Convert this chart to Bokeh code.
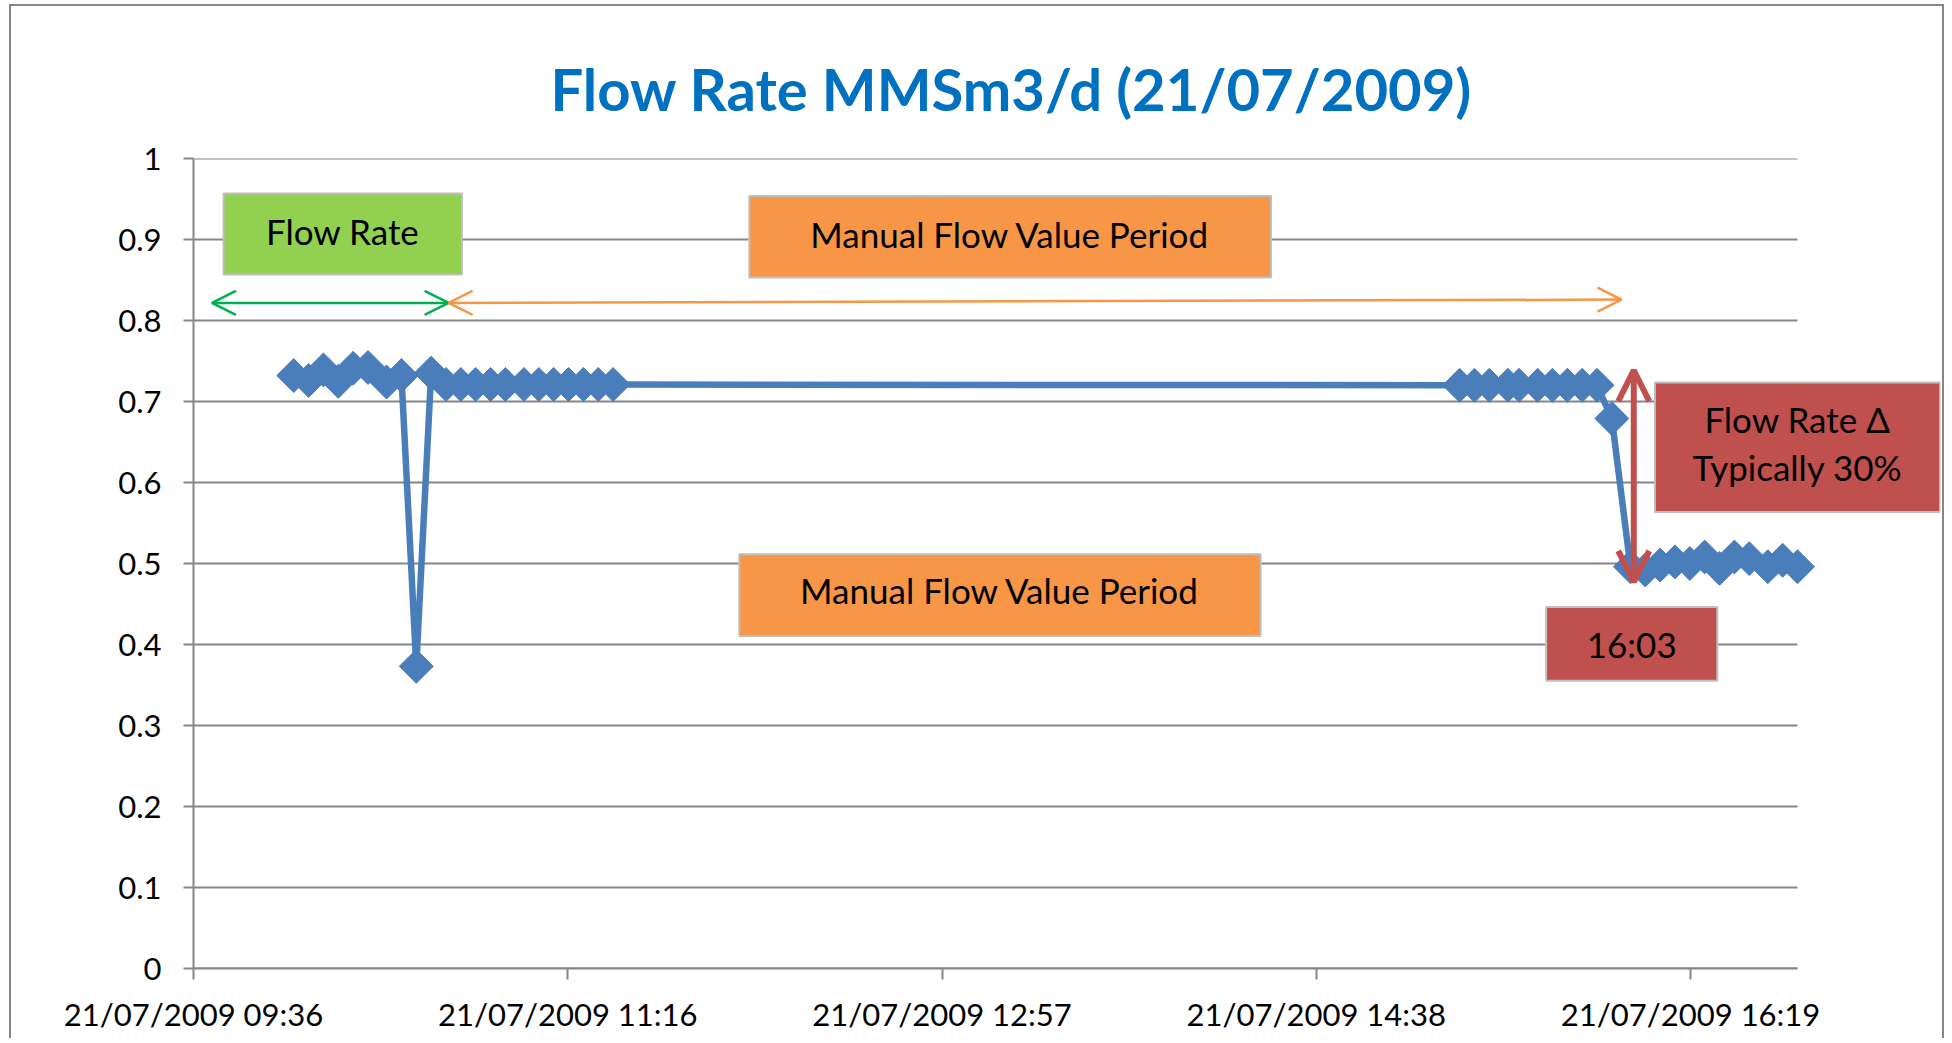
import math
from datetime import datetime, timezone

from bokeh.plotting import figure
from bokeh.models import (Range1d, FixedTicker, DatetimeTickFormatter, CustomJSTickFormatter,
                          BoxAnnotation, Label, Arrow, OpenHead)
from bokeh.embed import file_html
from bokeh.resources import INLINE

# ---------------- data ----------------
TITLE = "Flow Rate MMSm3/d (21/07/2009)"

times = ["10:03", "10:07", "10:11", "10:15", "10:19", "10:23", "10:28", "10:32", "10:36", "10:40",
         "10:44", "10:48", "10:52", "10:56", "11:00", "11:05", "11:09", "11:13", "11:17", "11:21",
         "11:25", "11:29",
         "15:17", "15:21", "15:25", "15:30", "15:33", "15:38", "15:42", "15:46", "15:50", "15:54",
         "15:58",
         "16:03", "16:07", "16:11", "16:15", "16:19", "16:23", "16:27", "16:31", "16:35", "16:40",
         "16:44", "16:48"]
flow = [0.732, 0.726, 0.739, 0.725, 0.741, 0.742, 0.724, 0.732, 0.373, 0.735,
        0.721, 0.721, 0.721, 0.721, 0.721, 0.721, 0.721, 0.721, 0.721, 0.721,
        0.721, 0.721,
        0.720, 0.720, 0.720, 0.720, 0.720, 0.720, 0.720, 0.720, 0.720, 0.720,
        0.679,
        0.496, 0.492, 0.498, 0.502, 0.500, 0.508, 0.494, 0.508, 0.506, 0.496,
        0.504, 0.496]

x_tick_day_fractions = [0.40, 0.47, 0.54, 0.61, 0.68]
x_axis_day_fractions = [0.40, 0.70]          # axis min / max (09:36 .. 16:48)
x_tick_format = "%d/%m/%Y %H:%M"
y_ticks = [0, 0.1, 0.2, 0.3, 0.4, 0.5, 0.6, 0.7, 0.8, 0.9, 1.0]

# annotation boxes: (left minute, right minute, bottom value, top value)
flow_rate_box = (584.1, 648.3, 0.8568, 0.9568)
manual_top_box = (725.7, 866.2, 0.8531, 0.9538)
manual_bottom_box = (723.0, 863.4, 0.4106, 0.5115)
delta_box = (969.6, 1046.4, 0.5637, 0.7235)
time_box = (940.3, 986.4, 0.3551, 0.4464)

BASE_MS = datetime(2009, 7, 21, tzinfo=timezone.utc).timestamp() * 1000.0
DAY_MS = 86400000.0


def ms_min(minutes):
    return BASE_MS + minutes * 60000.0


def ms_hhmm(s):
    h, m = s.split(":")
    return ms_min(int(h) * 60 + int(m))


x = [ms_hhmm(t) for t in times]

# ---------------- layout ----------------
FONT = "Lato"
GRID = "#868686"
BLUE = "#4A7EBB"

W, H = 1935, 1034
BORDER_L, BORDER_T, BORDER_B = 182, 152, 72
AXIS_PX = 1604                     # width of the 09:36..16:48 axis in px
FRAME_PX = 1747                    # frame extends right so the side note box is visible
axis_start = BASE_MS + x_axis_day_fractions[0] * DAY_MS
axis_end = BASE_MS + x_axis_day_fractions[1] * DAY_MS
view_end = axis_start + (axis_end - axis_start) * FRAME_PX / AXIS_PX

p = figure(width=W, height=H, x_axis_type="datetime",
           output_backend="svg", toolbar_location=None,
           x_range=Range1d(axis_start, view_end),
           y_range=Range1d(0, 1),
           min_border_left=BORDER_L, min_border_right=W - BORDER_L - FRAME_PX,
           min_border_top=BORDER_T, min_border_bottom=BORDER_B)
p.styles = {"border-top": "2px solid #868686", "border-left": "2px solid #868686",
            "border-right": "2px solid #868686", "margin-left": "9px", "margin-top": "4px"}
p.outline_line_color = None
p.background_fill_color = "white"
p.border_fill_color = "white"

p.title.text = TITLE
p.title.align = "left"
p.title.offset = 357
p.title.standoff = 72
p.title.text_font = FONT
p.title.text_font_style = "bold"
p.title.text_font_size = "58px"
p.title.text_color = "#0070C0"

# horizontal grid lines, stopping at the end of the time axis
p.xgrid.visible = False
p.ygrid.visible = False
p.segment(x0=[axis_start] * len(y_ticks), y0=y_ticks, x1=[axis_end] * len(y_ticks), y1=y_ticks,
          line_color=GRID, line_width=2)

# y axis
p.yaxis.ticker = FixedTicker(ticks=y_ticks)
p.yaxis.formatter = CustomJSTickFormatter(code="return Number(tick.toFixed(1)).toString()")
p.yaxis.major_label_text_font = FONT
p.yaxis.major_label_text_font_size = "31px"
p.yaxis.major_label_text_color = "black"
p.yaxis.major_label_standoff = 22
p.yaxis.axis_line_color = GRID
p.yaxis.axis_line_width = 2
p.yaxis.major_tick_line_color = GRID
p.yaxis.major_tick_line_width = 2
p.yaxis.major_tick_out = 10
p.yaxis.major_tick_in = 0
p.yaxis.minor_tick_line_color = None

# x axis
p.xaxis.bounds = (axis_start, axis_end)
p.xaxis.ticker = FixedTicker(ticks=[BASE_MS + f * DAY_MS for f in x_tick_day_fractions])
p.xaxis.formatter = DatetimeTickFormatter(
    microseconds=x_tick_format, milliseconds=x_tick_format, seconds=x_tick_format,
    minsec=x_tick_format, minutes=x_tick_format, hourmin=x_tick_format, hours=x_tick_format,
    days=x_tick_format, months=x_tick_format, years=x_tick_format)
p.xaxis.major_label_text_font = FONT
p.xaxis.major_label_text_font_size = "31px"
p.xaxis.major_label_text_color = "black"
p.xaxis.major_label_standoff = 15
p.xaxis.axis_line_color = GRID
p.xaxis.axis_line_width = 2
p.xaxis.major_tick_line_color = GRID
p.xaxis.major_tick_line_width = 2
p.xaxis.major_tick_out = 11
p.xaxis.major_tick_in = 0
p.xaxis.minor_tick_line_color = None

# series
p.line(x, flow, line_color=BLUE, line_width=6.5)
p.scatter(x, flow, marker="square", angle=math.pi / 4, size=24,
          fill_color=BLUE, line_color=BLUE)


def add_box(box, fill):
    l, r, b, t = box
    p.add_layout(BoxAnnotation(left=ms_min(l), right=ms_min(r), bottom=b, top=t,
                               fill_color=fill, fill_alpha=1.0,
                               line_color="#BFBFBF", line_alpha=1.0, line_width=2))


def add_text(txt, xm, yv, size="35px"):
    p.add_layout(Label(x=ms_min(xm), y=yv, text=txt, text_align="center",
                       text_baseline="middle", text_font=FONT, text_font_size=size,
                       text_color="black"))


def mid(box):
    return (box[0] + box[1]) / 2.0


add_box(flow_rate_box, "#92D050")
add_box(manual_top_box, "#F79646")
add_box(manual_bottom_box, "#F79646")
add_box(delta_box, "#C0504D")
add_box(time_box, "#C0504D")

add_text("Flow Rate", mid(flow_rate_box), 0.9109)
add_text("Manual Flow Value Period", mid(manual_top_box), 0.9069)
add_text("Manual Flow Value Period", mid(manual_bottom_box), 0.4678)
add_text("Flow Rate \u0394", mid(delta_box), 0.6785)
add_text("Typically 30%", mid(delta_box), 0.6193)
add_text("16:03", mid(time_box), 0.4006)


def add_arrow(x0, y0, x1, y1, color, width, head):
    p.add_layout(Arrow(
        start=OpenHead(size=head, line_color=color, line_width=width),
        end=OpenHead(size=head, line_color=color, line_width=width),
        x_start=ms_min(x0), y_start=y0, x_end=ms_min(x1), y_end=y1,
        line_color=color, line_width=width))


add_arrow(580.96, 0.8217, 644.7, 0.8217, "#00B050", 2.5, 24)
add_arrow(644.7, 0.8217, 960.6, 0.8258, "#F79646", 2.5, 24)
add_arrow(963.9, 0.4773, 963.9, 0.7386, "#C0504D", 6, 31)

open("out.html", "w").write(file_html(p, INLINE))
